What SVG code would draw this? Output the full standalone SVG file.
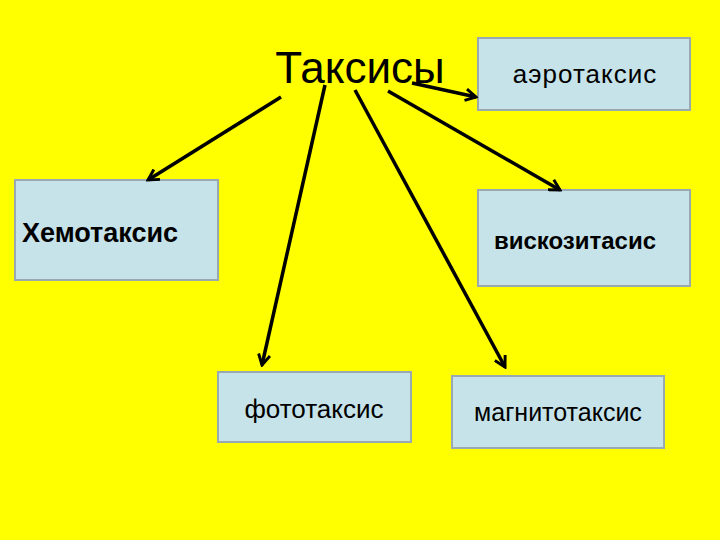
<svg xmlns="http://www.w3.org/2000/svg" width="720" height="540" viewBox="0 0 720 540">
<defs>
<style>
.box{fill:#C5E3E8;stroke:#9AA8B0;stroke-width:2}
.t{font-family:"Liberation Sans",Arial,sans-serif;fill:#000}
.c line{stroke:#000;stroke-width:3.5;marker-end:url(#a)}
</style>
<marker id="a" viewBox="0 0 12 12" refX="10" refY="6" markerWidth="4" markerHeight="4" orient="auto" markerUnits="strokeWidth">
<path d="M1,1 L10,6 L1,11" fill="none" stroke="#000" stroke-width="2.5"/>
</marker>
</defs>
<rect width="720" height="540" fill="#FFFF00"/>
<g id="title"><text class="t" x="360" y="83" font-size="44" text-anchor="middle">Таксисы</text></g>
<g id="aero"><rect class="box" x="478" y="38" width="212" height="72"/><text class="t" x="585" y="83" font-size="26" letter-spacing="1" text-anchor="middle">аэротаксис</text></g>
<g id="chemo"><rect class="box" x="15" y="180" width="203" height="100"/><text class="t" x="22" y="242" font-size="27" font-weight="bold">Хемотаксис</text></g>
<g id="visco"><rect class="box" x="478" y="190" width="212" height="96"/><text class="t" x="575" y="249" font-size="24" font-weight="bold" text-anchor="middle">вискозитасис</text></g>
<g id="photo"><rect class="box" x="218" y="372" width="193" height="70"/><text class="t" x="314" y="418" font-size="26" text-anchor="middle">фототаксис</text></g>
<g id="magnet"><rect class="box" x="452" y="376" width="212" height="72"/><text class="t" x="558" y="421" font-size="25" text-anchor="middle">магнитотаксис</text></g>
<g class="c" id="connectors">
<line x1="281" y1="97" x2="148" y2="180"/>
<line x1="325" y1="85" x2="262" y2="365"/>
<line x1="355" y1="90" x2="505" y2="367"/>
<line x1="388" y1="91" x2="560" y2="190"/>
<line x1="412" y1="83" x2="476" y2="97"/>
</g>
</svg>
